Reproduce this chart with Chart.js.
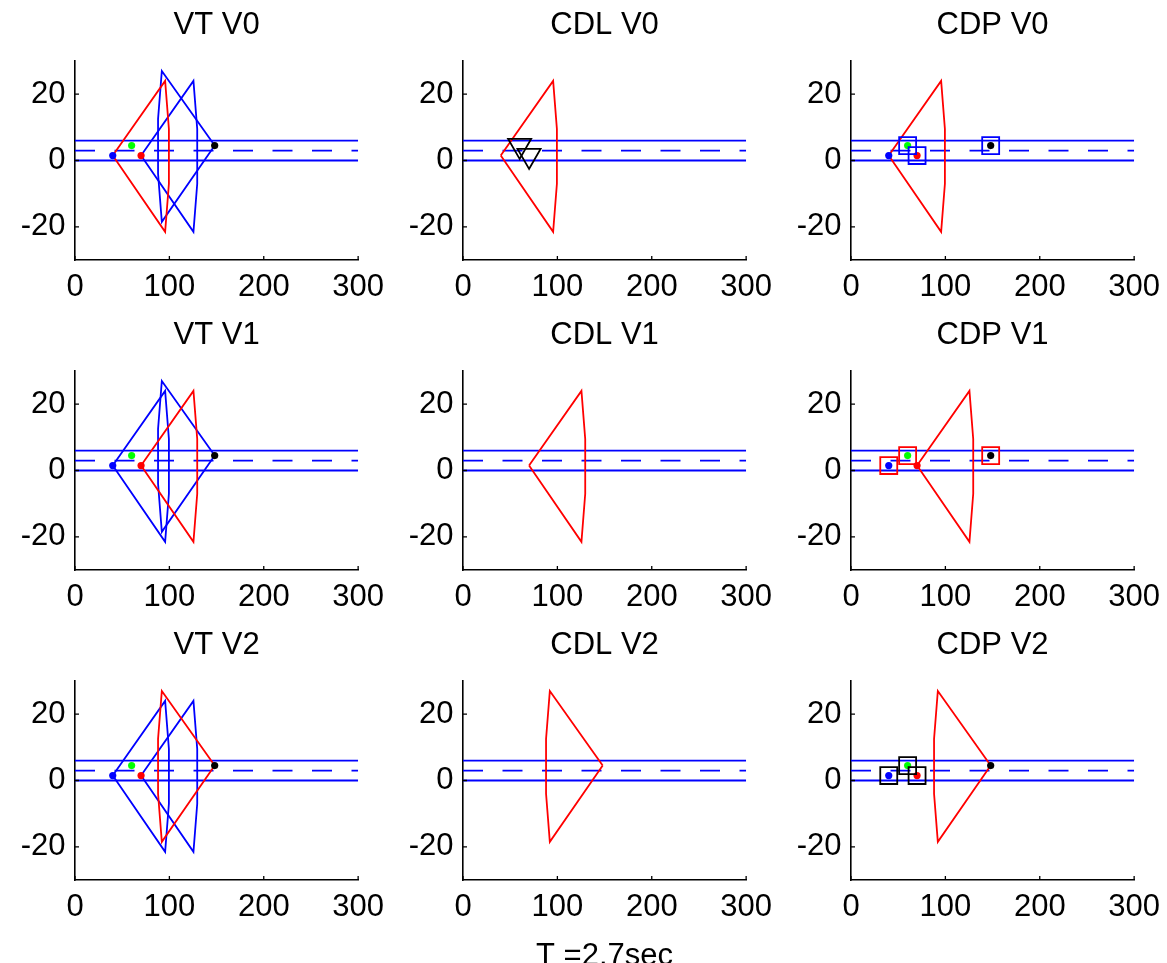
<!DOCTYPE html>
<html>
<head>
<meta charset="utf-8">
<script src="https://cdn.jsdelivr.net/npm/chart.js@4.4.0/dist/chart.umd.min.js"></script>
<style>
  html, body { margin: 0; padding: 0; background: #fff; overflow: hidden; }
  body { width: 1167px; height: 963px; position: relative; }
  canvas { position: absolute; }
</style>
</head>
<body>
<script>
// axes
const xTicks = [0, 100, 200, 300];
const yTicks = [-20, 0, 20];

// horizontal band: two solid lines and a dashed centre line
const bandX = [0, 300];
const bandSolidY = [0, 6];
const bandDashY = 3;

// the four dots (blue, green, red, black)
const dotX = [40, 60, 70, 148];
const dotY = [1.5, 4.5, 1.5, 4.5];
const dotColors = ['#0000ff', '#00ff00', '#ff0000', '#000000'];

// cone outlines
const coneAX = [40, 95.5, 99.5, 99.5, 95.5, 40];
const coneAY = [1.5, 24, 9.5, -7, -21.5, 1.5];
const coneBX = [70, 125.5, 129.5, 129.5, 125.5, 70];
const coneBY = [1.5, 24, 9.5, -7, -21.5, 1.5];
const coneCX = [148, 92, 88, 88, 92, 148];
const coneCY = [4.5, 27, 12.5, -4, -18.5, 4.5];
const cones = [[coneAX, coneAY], [coneBX, coneBY], [coneCX, coneCY]];

// panels
const colNames = ['VT', 'CDL', 'CDP'];
const rowNames = ['V0', 'V1', 'V2'];
const triangleDots = [[1, 2], [], []];          // CDL: black triangles
const boxedDots = [[1, 2, 3], [0, 1, 3], [0, 1, 2]]; // CDP: squares
const boxColors = ['#0000ff', '#ff0000', '#000000'];
const xLabel = 'T =2.7sec';

const BLUE = '#0000ff', RED = '#ff0000';
const FONT = { family: '"Liberation Sans", Arial, Helvetica, sans-serif', size: 31, lineHeight: 1, weight: 'normal' };
const LW = 1.8;

function line(xs, ys, color, dash) {
  return {
    data: xs.map((x, i) => ({ x, y: ys[i] })),
    showLine: true, borderColor: color, borderWidth: LW, borderDash: dash || [],
    pointRadius: 0, fill: false, tension: 0
  };
}

function marks(idx, style, color, radius, rot) {
  return {
    data: idx.map(i => ({ x: dotX[i], y: dotY[i] })),
    showLine: false, pointStyle: style, pointRadius: radius, pointRotation: rot || 0,
    pointBorderColor: color, pointBorderWidth: LW, pointBackgroundColor: 'rgba(0,0,0,0)'
  };
}

function dots() {
  return dotX.map((x, i) => ({
    data: [{ x, y: dotY[i] }], showLine: false, pointStyle: 'circle',
    pointRadius: 3.6, pointBorderWidth: 0, pointBackgroundColor: dotColors[i]
  }));
}

function panelDatasets(r, c) {
  let ds = [];
  bandSolidY.forEach(y => ds.push(line(bandX, [y, y], BLUE)));
  ds.push(line(bandX, [bandDashY, bandDashY], BLUE, [20, 19.5]));
  if (c === 0) {
    cones.forEach((cn, k) => { if (k !== r) ds.push(line(cn[0], cn[1], BLUE)); });
    ds.push(line(cones[r][0], cones[r][1], RED));
    ds = ds.concat(dots());
  } else if (c === 1) {
    ds.push(line(cones[r][0], cones[r][1], RED));
    if (triangleDots[r].length) ds.push(marks(triangleDots[r], 'triangle', '#000', 13.3, 180));
  } else {
    ds.push(line(cones[r][0], cones[r][1], RED));
    ds = ds.concat(dots());
    ds.push(marks(boxedDots[r], 'rect', boxColors[r], 12));
  }
  return ds.reverse(); // first dataset is drawn on top
}

const innerTicks = {
  id: 'innerTicks',
  afterDraw(chart) {
    const { ctx, chartArea: a, scales: { x, y } } = chart;
    ctx.save();
    ctx.strokeStyle = '#000';
    ctx.lineWidth = 1.3;
    ctx.beginPath();
    xTicks.forEach(v => { const px = x.getPixelForValue(v); ctx.moveTo(px, a.bottom); ctx.lineTo(px, a.bottom - 4); });
    yTicks.forEach(v => { const py = y.getPixelForValue(v); ctx.moveTo(a.left, py); ctx.lineTo(a.left + 4, py); });
    ctx.stroke();
    ctx.restore();
  }
};

for (let r = 0; r < 3; r++) {
  for (let c = 0; c < 3; c++) {
    const hasLabel = (r === 2 && c === 1);
    const cv = document.createElement('canvas');
    cv.width = 396;
    cv.height = hasLabel ? 352 : 305;
    cv.style.left = (c * 388) + 'px';
    cv.style.top = (r * 310) + 'px';
    document.body.appendChild(cv);

    new Chart(cv, {
      type: 'scatter',
      data: { datasets: panelDatasets(r, c) },
      options: {
        responsive: false, animation: false, events: [],
        layout: { padding: 0 },
        plugins: {
          legend: { display: false },
          tooltip: { enabled: false },
          title: {
            display: true, text: colNames[c] + ' ' + rowNames[r], fullSize: false,
            color: '#000', font: FONT, padding: { top: 9.5, bottom: 20.5 }
          }
        },
        scales: {
          x: {
            type: 'linear', min: 0, max: 300,
            afterBuildTicks: s => { s.ticks = xTicks.map(v => ({ value: v })); },
            afterFit: s => { s.height = hasLabel ? 92 : 45; },
            grid: { display: false, drawTicks: false },
            border: { color: '#000', width: 1.6 },
            ticks: { color: '#000', font: FONT, padding: 12, maxRotation: 0, autoSkip: false },
            title: { display: hasLabel, text: xLabel, color: '#000', font: FONT, padding: 0 }
          },
          y: {
            type: 'linear', min: -30, max: 30,
            afterBuildTicks: s => { s.ticks = yTicks.map(v => ({ value: v })); },
            afterFit: s => { s.width = 75; },
            grid: { display: false, drawTicks: false },
            border: { color: '#000', width: 1.6 },
            ticks: { color: '#000', font: FONT, padding: 9.5, autoSkip: false }
          }
        }
      },
      plugins: [innerTicks]
    });
  }
}
</script>
</body>
</html>
